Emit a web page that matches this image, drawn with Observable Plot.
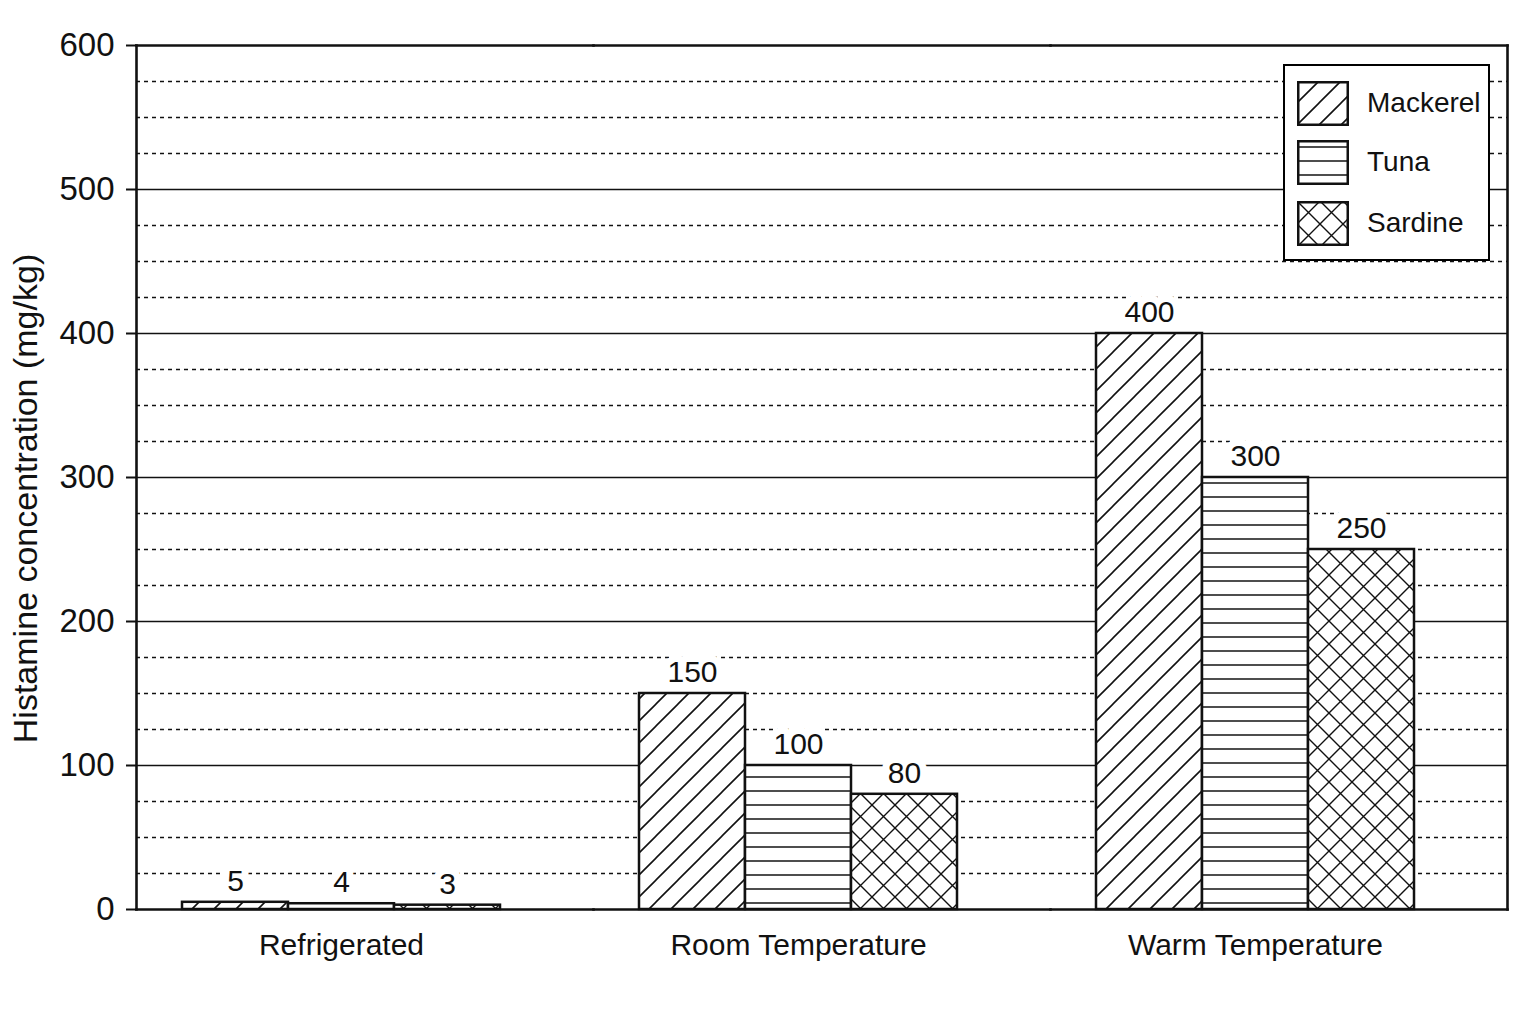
<!DOCTYPE html>
<html>
<head>
<meta charset="utf-8">
<script src="https://cdn.jsdelivr.net/npm/d3@7"></script>
<script src="https://cdn.jsdelivr.net/npm/@observablehq/plot@0.6"></script>
<style>
  html, body { margin: 0; padding: 0; background: #fff; }
  #wrap { position: relative; width: 1536px; height: 1024px; font-family: "Liberation Sans", Arial, Helvetica, sans-serif; }
  #legend { position: absolute; left: 1283px; top: 64px; width: 207px; height: 197px; box-sizing: border-box;
            border: 2.5px solid #000; background: #fff; }
  .item { position: absolute; left: 12px; height: 43px; }
  .item svg { position: absolute; left: 0; top: 0; }
  .item span { position: absolute; left: 70px; top: 50%; transform: translateY(-50%); font-size: 28px; color: #111; white-space: nowrap; }
</style>
</head>
<body>
<div id="wrap"></div>
<script>
// ---- data ----
const conditions = ["Refrigerated", "Room Temperature", "Warm Temperature"];
const fishes = ["Mackerel", "Tuna", "Sardine"];
const mackerel = [5, 150, 400];
const tuna = [4, 100, 300];
const sardine = [3, 80, 250];
const yMajorTicks = [0, 100, 200, 300, 400, 500, 600];
const yMinorTicks = [25, 50, 75, 125, 150, 175, 225, 250, 275, 325, 350, 375, 425, 450, 475, 525, 550, 575];
const yLabel = "Histamine concentration (mg/kg)";

const seriesValues = {Mackerel: mackerel, Tuna: tuna, Sardine: sardine};
const patternIds = {Mackerel: "pat-mackerel", Tuna: "pat-tuna", Sardine: "pat-sardine"};
const rows = conditions.flatMap((c, i) => fishes.map(f => ({condition: c, fish: f, value: seriesValues[f][i]})));

const svg = Plot.plot({
  width: 1536,
  height: 1024,
  marginLeft: 135,
  marginRight: 29,
  marginTop: 45,
  marginBottom: 115,
  style: {fontFamily: "'Liberation Sans', Arial, Helvetica, sans-serif", fontSize: "30px", color: "#111", background: "#fff"},
  fx: {domain: conditions, padding: 0, axis: null, label: null},
  x: {domain: fishes, paddingInner: 0, paddingOuter: 0.637, align: 0.33, axis: null, label: null},
  y: {domain: [0, 600], label: null},
  color: {type: "identity"},
  marks: [
    Plot.ruleY(yMinorTicks, {stroke: "#111", strokeWidth: 1.3, strokeDasharray: "4,4"}),
    Plot.ruleY(yMajorTicks.filter(v => v > 0 && v < 600), {stroke: "#111", strokeWidth: 1.6}),
    Plot.barY(rows, {fx: "condition", x: "fish", y: "value", fill: d => `url(#${patternIds[d.fish]})`, stroke: "#111", strokeWidth: 2.5}),
    Plot.text(rows, {fx: "condition", x: "fish", y: "value", text: d => String(d.value), dy: -21, fontSize: 30,
      fill: "#111", stroke: "white", strokeWidth: 14, paintOrder: "stroke"}),
    Plot.frame({anchor: "top", stroke: "#111", strokeWidth: 2.6}),
    Plot.frame({anchor: "bottom", stroke: "#111", strokeWidth: 2.6}),
    Plot.frame({anchor: "left", fx: conditions[0], stroke: "#111", strokeWidth: 2.6}),
    Plot.frame({anchor: "right", fx: conditions[conditions.length - 1], stroke: "#111", strokeWidth: 2.6}),
    Plot.axisY(yMajorTicks, {tickSize: 10, tickPadding: 12, fontSize: 33, strokeWidth: 2, label: null}),
    Plot.text(conditions, {fx: d => d, x: () => fishes[1], frameAnchor: "bottom", dy: 45, fontSize: 30, fill: "#111"}),
    Plot.text([yLabel], {fx: () => conditions[0], frameAnchor: "left", textAnchor: "middle", rotate: -90, dx: -110, dy: 21, fontSize: 34, fill: "#111"})
  ]
});

// hatch patterns
const NS = "http://www.w3.org/2000/svg";
const defsMarkup = `
  <pattern id="pat-mackerel" patternUnits="userSpaceOnUse" width="22" height="22">
    <rect width="22" height="22" fill="#fff"/>
    <path d="M-3,3 L3,-3 M0,22 L22,0 M19,25 L25,19" stroke="#111" stroke-width="1.6" fill="none"/>
  </pattern>
  <pattern id="pat-tuna" patternUnits="userSpaceOnUse" width="10" height="14">
    <rect width="10" height="14" fill="#fff"/>
    <path d="M0,7 H10" stroke="#111" stroke-width="1.5" fill="none"/>
  </pattern>
  <pattern id="pat-sardine" patternUnits="userSpaceOnUse" width="23" height="23">
    <rect width="23" height="23" fill="#fff"/>
    <path d="M0,0 L23,23 M23,0 L0,23 M-3,3 L3,-3 M20,26 L26,20 M-3,20 L3,26 M20,-3 L26,3" stroke="#111" stroke-width="1.4" fill="none"/>
  </pattern>`;
const defs = document.createElementNS(NS, "defs");
defs.innerHTML = defsMarkup;
svg.insertBefore(defs, svg.firstChild);

const wrap = document.getElementById("wrap");
wrap.appendChild(svg);

// legend (inside the plot, top right)
const legend = document.createElement("div");
legend.id = "legend";
const tops = [15, 74, 135];
fishes.forEach((f, i) => {
  const item = document.createElement("div");
  item.className = "item";
  item.style.top = tops[i] + "px";
  item.innerHTML = `<svg width="52" height="45"><rect x="1.25" y="1.25" width="49.5" height="42.5" fill="url(#${patternIds[f]})" stroke="#111" stroke-width="2.5"/></svg><span>${f}</span>`;
  legend.appendChild(item);
});
wrap.appendChild(legend);
</script>
</body>
</html>
